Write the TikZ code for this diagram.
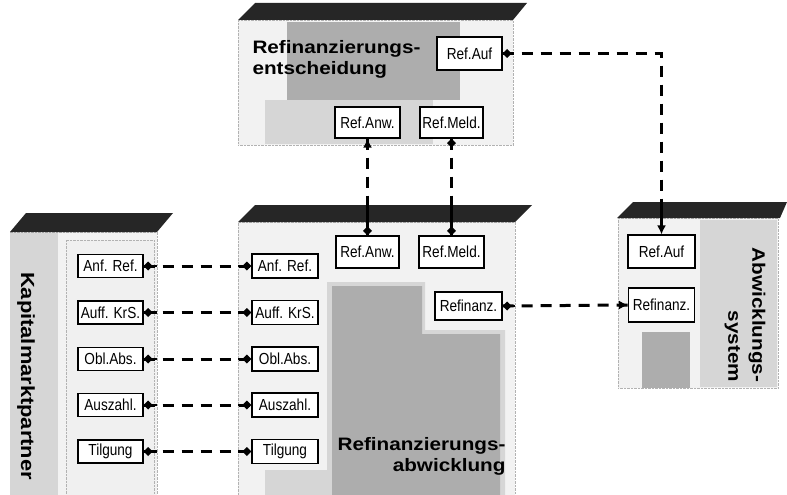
\documentclass[tikz,border=0pt]{standalone}
\usepackage{fontspec}
\setmainfont{Liberation Sans}
\newfontfamily\narrowfont[FakeStretch=0.85]{Liberation Sans}
\newfontfamily\widefont[FakeStretch=1.15]{Liberation Sans}
\usetikzlibrary{arrows.meta}
\definecolor{bandc}{gray}{0.15}
\definecolor{facec}{gray}{0.95}
\definecolor{shadec}{gray}{0.68}
\definecolor{midc}{gray}{0.84}
\tikzset{
  band/.style={fill=bandc, draw=none},
  face/.style={draw=gray!60, densely dotted, fill=facec, inner sep=0pt, anchor=north west},
  shadebox/.style={fill=shadec, draw=none},
  lightbox/.style={fill=midc, draw=none},
  lbl/.style={draw=black, line width=1.1pt, fill=white, inner sep=1pt,
    font=\narrowfont\fontsize{16}{18}\selectfont},
  kbox/.style={lbl, minimum width=65pt, minimum height=23pt},
  bbox/.style={lbl, minimum width=66pt, minimum height=24pt},
  ttl/.style={font=\widefont\bfseries\fontsize{18}{21}\selectfont},
  conn/.style={line width=3pt, dash pattern=on 11pt off 8pt},
  seg/.style={line width=2.6pt},
  dia/.style={-{Turned Square[length=9pt,width=9pt]}},
  arr/.style={-{Latex[length=9pt,width=9pt]}},
}
\begin{document}
\begin{tikzpicture}[x=1pt,y=-1pt]
\useasboundingbox (0,0) rectangle (787,495);

% ---------- box A: Refinanzierungsentscheidung ----------
\node[face, minimum width=275pt, minimum height=125pt] (aface) at (238,20) {};
\fill[shadebox] (287,22) rectangle (460,100);
\fill[lightbox] (265,100) rectangle (433,144);
\fill[band] (238,20) -- (255,3) -- (527,3) -- (513,20) -- cycle;
\coordinate (atop) at (0,3);
\node[ttl, anchor=north west, align=left] (atitle) at (249,37) {Refinanzierungs-\\entscheidung};

% ---------- box B: Refinanzierungsabwicklung ----------
\node[face, minimum width=277pt, minimum height=273pt] (bface) at (238,222) {};
\fill[lightbox] (327,282) -- (425,282) -- (425,330) -- (505,330) -- (505,495) -- (265,495) -- (265,470) -- (327,470) -- cycle;
\fill[shadebox] (332,286) -- (422,286) -- (422,334) -- (500,334) -- (500,495) -- (332,495) -- cycle;
\fill[band] (238,222) -- (255,205) -- (532,205) -- (515,222) -- cycle;
\coordinate (btop) at (0,205);
\node[ttl, anchor=north east, align=right] (btitle) at (509,434) {Refinanzierungs-\\abwicklung};

% ---------- box K: Kapitalmarktpartner ----------
\node[face, minimum width=147pt, minimum height=263pt] (kface) at (10,232) {};
\fill[lightbox] (10,233) rectangle (58,495);
\filldraw[fill=gray!12, draw=gray!60, densely dotted] (66,240) rectangle (154,495);
\fill[band] (10,232) -- (26,213) -- (173,213) -- (157,232) -- cycle;
\node[font=\widefont\bfseries\fontsize{19}{22}\selectfont, rotate=-90] (ktitle) at (26,376) {Kapitalmarktpartner};

% ---------- box S: Abwicklungssystem ----------
\node[face, minimum width=160pt, minimum height=170pt] (sface) at (618,218) {};
\fill[midc] (700,220) rectangle (777,387);
\fill[shadebox] (642,332) rectangle (690,388);
\fill[band] (617,218) -- (633,202) -- (787,202) -- (780,218) -- cycle;
\coordinate (stop) at (0,202);
\node[ttl, rotate=-90, align=right] (stitle) at (745,315) {Abwicklungs-\\[3pt]system};

% ---------- labelled boxes ----------
\node[lbl, minimum width=65pt, minimum height=33pt] (ra1) at (469.5,53.5) {Ref.Auf};
\node[lbl, minimum width=65pt, minimum height=31pt] (rw1) at (367.5,122.5) {Ref.Anw.};
\node[lbl, minimum width=63pt, minimum height=31pt] (rm1) at (451.5,122.5) {Ref.Meld.};

\node[lbl, minimum width=63pt, minimum height=32pt] (rw2) at (367.5,252) {Ref.Anw.};
\node[lbl, minimum width=65pt, minimum height=32pt] (rm2) at (451.5,252) {Ref.Meld.};
\node[lbl, minimum width=67pt, minimum height=28pt] (rf1) at (468.5,306) {Refinanz.};

\node[lbl, minimum width=67pt, minimum height=33pt] (ra2) at (661.5,251.5) {Ref.Auf};
\node[lbl, minimum width=66pt, minimum height=34pt] (rf2) at (661.5,305) {Refinanz.};

\node[kbox] (k1) at (110.5,266) {Anf. Ref.};
\node[kbox] (k2) at (110.5,312.5) {Auff. KrS.};
\node[kbox] (k3) at (110.5,359) {Obl.Abs.};
\node[kbox] (k4) at (110.5,405) {Auszahl.};
\node[kbox] (k5) at (110.5,451.5) {Tilgung};

\node[bbox] (b1) at (285,266) {Anf. Ref.};
\node[bbox] (b2) at (285,312.5) {Auff. KrS.};
\node[bbox] (b3) at (285,359) {Obl.Abs.};
\node[bbox] (b4) at (285,405) {Auszahl.};
\node[bbox] (b5) at (285,451.5) {Tilgung};

% ---------- connectors ----------
\foreach \i in {1,...,5}{
  \draw[conn] (k\i.east) -- (b\i.west);
  \draw[seg, dia] (k\i.east -| kface.east) -- (k\i.east);
  \draw[seg, dia] (b\i.west -| bface.west) -- (b\i.west);
}
% Ref.Anw.
\draw[conn] (rw1.south) -- (rw2.north);
\draw[seg, arr] (rw1.south |- aface.south) -- (rw1.south);
\draw[seg, dia] (rw2.north |- btop) -- (rw2.north);
% Ref.Meld.
\draw[conn] (rm1.south) -- (rm2.north);
\draw[seg, dia] (rm1.south |- aface.south) -- (rm1.south);
\draw[seg, dia] (rm2.north |- btop) -- (rm2.north);
% Ref.Auf
\draw[conn] (ra1.east) -| (ra2.north);
\draw[seg, dia] (ra1.east -| aface.east) -- (ra1.east);
\draw[seg, arr] (ra2.north |- stop) -- (ra2.north);
% Refinanz.
\draw[conn] (rf1.east) -- (rf2.west);
\draw[seg, dia] (rf1.east -| bface.east) -- (rf1.east);
\draw[seg, arr] (rf2.west -| sface.west) -- (rf2.west);
\end{tikzpicture}
\end{document}
